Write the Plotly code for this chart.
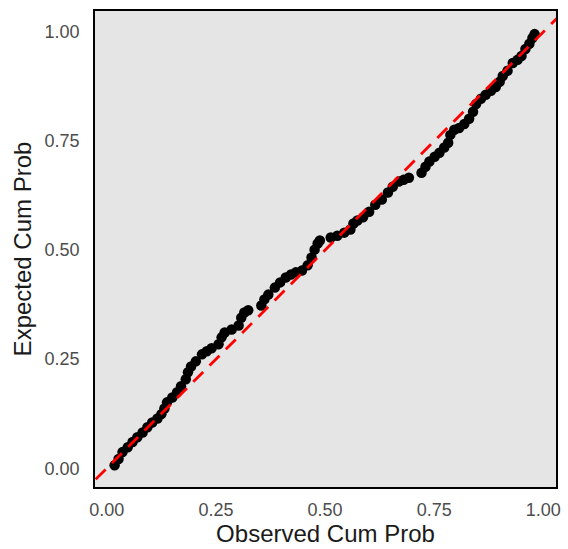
import plotly.graph_objects as go

# Observed vs expected cumulative probabilities
observed = [0.018, 0.027, 0.036, 0.048, 0.059, 0.070, 0.082, 0.093, 0.104, 0.116, 0.125,
            0.132, 0.138, 0.150, 0.161, 0.170, 0.181, 0.186, 0.193, 0.204, 0.218, 0.229,
            0.240, 0.256, 0.263, 0.270, 0.286, 0.302, 0.308, 0.315, 0.324,
            0.354, 0.361, 0.370, 0.385, 0.397, 0.410, 0.422, 0.433, 0.447, 0.460, 0.469,
            0.476, 0.483, 0.488,
            0.513, 0.528, 0.544, 0.558, 0.565, 0.574, 0.587, 0.601, 0.615, 0.630, 0.644,
            0.655, 0.669, 0.680, 0.692,
            0.721, 0.730, 0.739, 0.751, 0.762, 0.773, 0.782, 0.787, 0.796, 0.807, 0.819,
            0.830, 0.839, 0.846, 0.857, 0.868, 0.880, 0.891, 0.900, 0.907, 0.918, 0.930,
            0.941, 0.950, 0.959, 0.968, 0.975, 0.980]
expected = [0.007, 0.021, 0.037, 0.048, 0.060, 0.071, 0.082, 0.094, 0.105, 0.114, 0.124,
            0.137, 0.151, 0.162, 0.174, 0.188, 0.204, 0.220, 0.233, 0.245, 0.261, 0.268,
            0.275, 0.284, 0.300, 0.311, 0.318, 0.327, 0.345, 0.357, 0.362,
            0.373, 0.387, 0.398, 0.414, 0.426, 0.437, 0.444, 0.449, 0.453, 0.465, 0.483,
            0.501, 0.515, 0.522,
            0.529, 0.533, 0.540, 0.547, 0.561, 0.568, 0.575, 0.588, 0.604, 0.616, 0.632,
            0.645, 0.657, 0.661, 0.666,
            0.677, 0.691, 0.703, 0.714, 0.723, 0.735, 0.746, 0.764, 0.776, 0.780, 0.789,
            0.801, 0.817, 0.835, 0.847, 0.856, 0.865, 0.874, 0.886, 0.899, 0.911, 0.929,
            0.936, 0.945, 0.961, 0.973, 0.986, 0.995]

ref_line = [-0.1, 1.1]

fig = go.Figure()
fig.add_trace(go.Scatter(
    x=observed, y=expected, mode="markers",
    marker=dict(color="black", size=10.5, line=dict(width=0)),
    showlegend=False, hoverinfo="x+y"))
fig.add_trace(go.Scatter(
    x=ref_line, y=ref_line, mode="lines",
    line=dict(color="#FF0000", width=2.8, dash="14px,9px"),
    showlegend=False, hoverinfo="skip"))

tick_vals = [0, 0.25, 0.5, 0.75, 1.0]
tick_text = ["0.00", "0.25", "0.50", "0.75", "1.00"]
FONT = "Liberation Sans, Arial, sans-serif"
axis_common = dict(
    tickvals=tick_vals, ticktext=tick_text,
    showgrid=False, zeroline=False,
    showline=True, mirror=True, linecolor="black", linewidth=1.5,
    ticks="outside", tickcolor="rgba(0,0,0,0)",
    tickfont=dict(family=FONT, size=18, color="#4D4D4D"),
    title_font=dict(family=FONT, size=24, color="#1A1A1A"),
)

fig.update_layout(
    width=568, height=549,
    margin=dict(l=95, r=7, t=11, b=61),
    paper_bgcolor="white", plot_bgcolor="#E5E5E5",
    xaxis=dict(range=[-0.027, 1.029], ticklen=6,
               title=dict(text="Observed Cum Prob", standoff=5), **axis_common),
    yaxis=dict(range=[-0.043, 1.048], ticklen=10,
               title=dict(text="Expected Cum Prob", standoff=6), **axis_common),
)

fig.write_html("out.html")
